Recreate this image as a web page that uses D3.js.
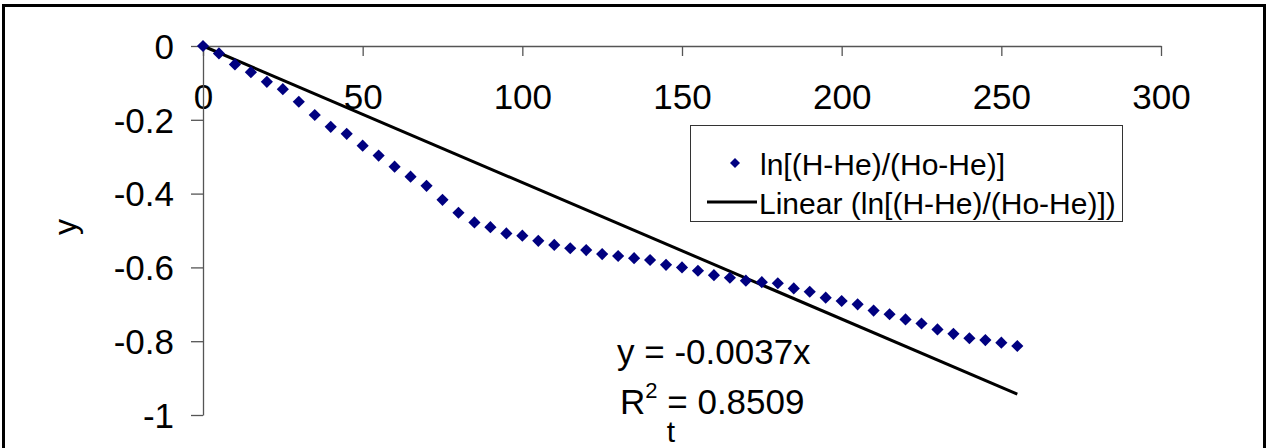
<!DOCTYPE html>
<html><head><meta charset="utf-8">
<script src="https://cdn.jsdelivr.net/npm/d3@7"></script>
<style>
body{margin:0;background:#fff;overflow:hidden}
text{font-family:"Liberation Sans",Arial,sans-serif;fill:#000}
</style>
</head><body>
<svg id="c" width="1270" height="448"></svg>
<script>
const tValues = [0,5,10,15,20,25,30,35,40,45,50,55,60,65,70,75,80,85,90,95,100,105,110,115,120,125,130,135,140,145,150,155,160,165,170,175,180,185,190,195,200,205,210,215,220,225,230,235,240,245,250,255];
const lnRatio = [0,-0.020,-0.050,-0.071,-0.097,-0.117,-0.151,-0.187,-0.219,-0.238,-0.270,-0.297,-0.327,-0.354,-0.379,-0.417,-0.452,-0.478,-0.491,-0.508,-0.514,-0.528,-0.539,-0.548,-0.553,-0.564,-0.569,-0.575,-0.580,-0.593,-0.600,-0.609,-0.621,-0.628,-0.636,-0.640,-0.643,-0.657,-0.666,-0.682,-0.691,-0.700,-0.717,-0.727,-0.741,-0.752,-0.768,-0.780,-0.792,-0.797,-0.804,-0.813];
const xTicks = [0,50,100,150,200,250,300];
const yTicks = [0,-0.2,-0.4,-0.6,-0.8,-1];
const yTickLabels = ["0","-0.2","-0.4","-0.6","-0.8","-1"];
const slope = -0.0037;
const trendX = [0,255];
const seriesName = "ln[(H-He)/(Ho-He)]";
const trendName = "Linear (ln[(H-He)/(Ho-He)])";
const eqText = "y = -0.0037x";
const r2Value = "0.8509";
const xTitle = "t", yTitle = "y";

const svg = d3.select("#c");
const x = d3.scaleLinear().domain([0,300]).range([203,1161]);
const y = d3.scaleLinear().domain([-1,0]).range([415,46]);

// outer border
svg.append("rect").attr("x",3.5).attr("y",5.5).attr("width",1261).attr("height",460)
  .attr("fill","#fff").attr("stroke","#000").attr("stroke-width",3);

const axisColor = "#555";
const FONT = '"Liberation Sans",Arial,sans-serif';
// x axis at y=0
const gx = svg.append("g").attr("transform",`translate(0,${y(0)})`)
  .call(d3.axisBottom(x).tickValues(xTicks).tickSize(10).tickSizeOuter(0).tickFormat(d => String(d)));
gx.select(".domain").attr("stroke",axisColor).attr("stroke-width",1.3);
gx.selectAll(".tick line").attr("stroke",axisColor).attr("stroke-width",1.3);
gx.selectAll(".tick text").attr("font-size",35).attr("y",63).attr("dy",0)
  .attr("font-family",FONT).attr("fill","#000");

// y axis
const gy = svg.append("g").attr("transform",`translate(${x(0)},0)`)
  .call(d3.axisLeft(y).tickValues(yTicks).tickSize(12).tickSizeOuter(0).tickFormat((d,i) => yTickLabels[i]));
gy.select(".domain").attr("stroke",axisColor).attr("stroke-width",1.3);
gy.selectAll(".tick line").attr("stroke",axisColor).attr("stroke-width",1.3);
gy.selectAll(".tick text").attr("font-size",35).attr("x",-29).attr("dy","0.35em")
  .attr("font-family",FONT).attr("fill","#000");

// trendline
svg.append("line")
  .attr("x1",x(trendX[0])).attr("y1",y(slope*trendX[0]))
  .attr("x2",x(trendX[1])).attr("y2",y(slope*trendX[1]))
  .attr("stroke","#000").attr("stroke-width",3);

// points
const diamond = d3.symbol().type(d3.symbolSquare).size(74);
svg.append("g").selectAll("path").data(tValues.map((t,i)=>[t,lnRatio[i]])).join("path")
  .attr("d",diamond())
  .attr("transform",d=>`translate(${x(d[0])},${y(d[1])}) rotate(45)`)
  .attr("fill","#000080");

// legend
const lg = svg.append("g");
lg.append("rect").attr("x",690.5).attr("y",125.5).attr("width",432).attr("height",96)
  .attr("fill","#fff").attr("stroke","#333").attr("stroke-width",1);
lg.append("path").attr("d",d3.symbol().type(d3.symbolSquare).size(50)())
  .attr("transform","translate(735,163) rotate(45)").attr("fill","#000080");
lg.append("text").attr("x",760).attr("y",175).attr("font-size",30).text(seriesName);
lg.append("line").attr("x1",707).attr("x2",757).attr("y1",202).attr("y2",202)
  .attr("stroke","#000").attr("stroke-width",3);
lg.append("text").attr("x",759).attr("y",214).attr("font-size",30).text(trendName);

// equation
svg.append("text").attr("x",617).attr("y",364).attr("font-size",35).text(eqText);
const r = svg.append("text").attr("x",620).attr("y",414).attr("font-size",35);
r.append("tspan").text("R");
r.append("tspan").attr("font-size",22).attr("dy",-16).text("2");
r.append("tspan").attr("dy",16).text(" = " + r2Value);

// axis titles
svg.append("text").attr("x",671).attr("y",442).attr("font-size",30).attr("text-anchor","middle").text(xTitle);
svg.append("text").attr("transform","translate(76,227) rotate(-90)").attr("font-size",32)
  .attr("text-anchor","middle").text(yTitle);
</script>
</body></html>
